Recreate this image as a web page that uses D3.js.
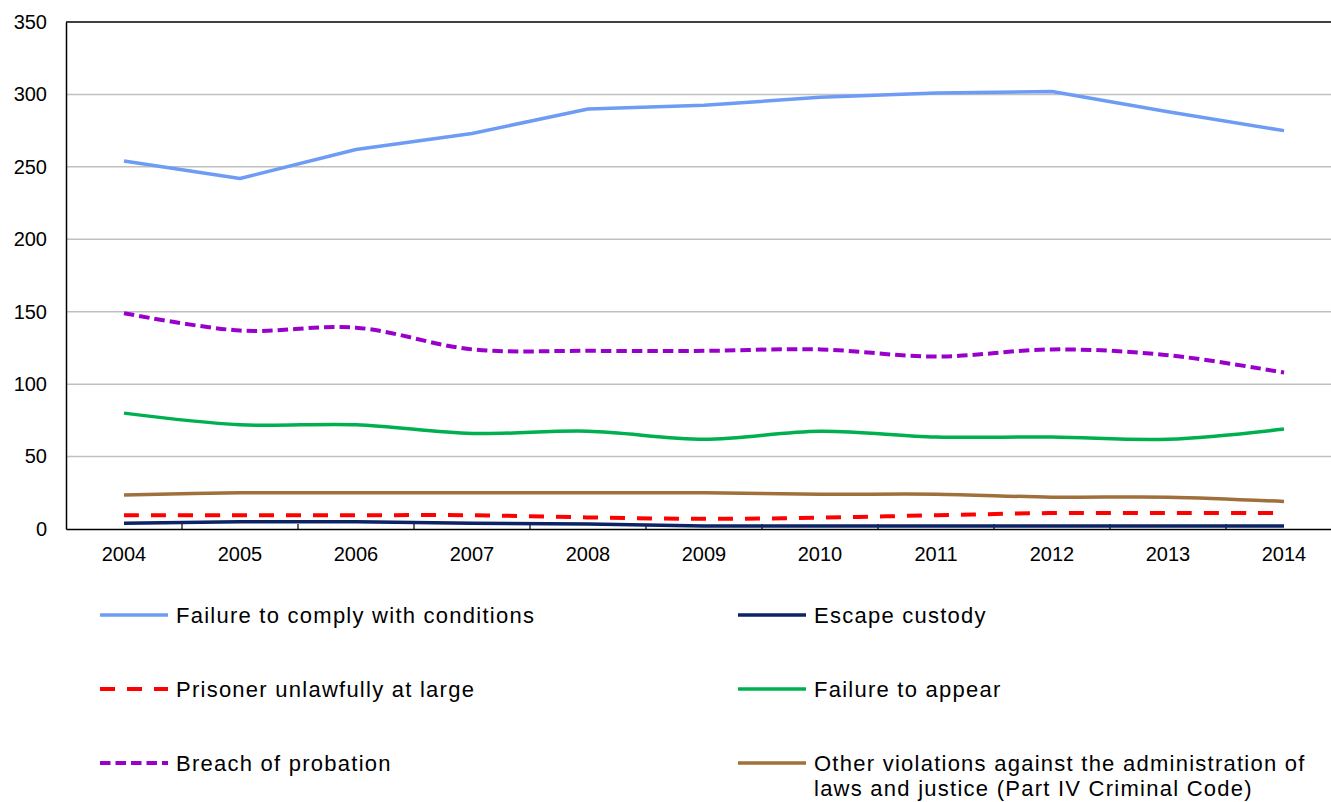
<!DOCTYPE html>
<html><head><meta charset="utf-8">
<script src="https://cdn.jsdelivr.net/npm/d3@7"></script>
<style>html,body{margin:0;padding:0;background:#fff;overflow:hidden}</style>
</head><body>
<svg id="chart" width="1331" height="802"></svg>
<script>
const years = ["2004","2005","2006","2007","2008","2009","2010","2011","2012","2013","2014"];
const yTicks = [0,50,100,150,200,250,300,350];
const failureComply = [254,242,262,273,290,292.5,298,301,302,288,275];
const escapeCustody = [4,5,5,4,3.5,2,2,2,2,2,2];
const prisonerAtLarge = [9.5,9.5,9.5,9.5,8,7,7.8,9.5,11,11,11];
const failureAppear = [80,72,72,66,67.5,62,67.5,63.5,63.5,62,69];
const breachProbation = [149,137,139,124,123,123,124,119,124,120,108];
const otherViolations = [23.5,25,25,25,25,25,24,24,22,22,19];
const seriesNames = ["Failure to comply with conditions","Escape custody","Prisoner unlawfully at large","Failure to appear","Breach of probation","Other violations against the administration of|laws and justice  (Part IV  Criminal Code)"];

const series = [
  {name: seriesNames[0], values: failureComply, color: "#6E9CF5", dash: null, w: 3.5, smooth: false},
  {name: seriesNames[1], values: escapeCustody, color: "#0C2466", dash: null, w: 3.5, smooth: false},
  {name: seriesNames[2], values: prisonerAtLarge, color: "#FF0000", dash: "15,12", w: 4, smooth: true},
  {name: seriesNames[3], values: failureAppear, color: "#00B050", dash: null, w: 3.5, smooth: true},
  {name: seriesNames[4], values: breachProbation, color: "#9900CC", dash: "10.5,5", w: 4, smooth: true},
  {name: seriesNames[5], values: otherViolations, color: "#A0703C", dash: null, w: 3.5, smooth: true}
];

const svg = d3.select("#chart");
const pLeft = 66, pRight = 1342, pTop = 22, pBottom = 529;
const x = d3.scaleBand().domain(years).range([pLeft, pRight]).padding(0);
const y = d3.scaleLinear().domain([0,350]).range([pBottom, pTop]);

svg.append("g").selectAll("line").data(yTicks.filter(d => d > 0)).join("line")
  .attr("x1", pLeft).attr("x2", pRight)
  .attr("y1", d => y(d)).attr("y2", d => y(d))
  .attr("stroke", d => d === 350 ? "#000" : "#C0C0C0")
  .attr("stroke-width", 1.5);

const yAxis = d3.axisLeft(y).tickValues(yTicks).tickSize(0).tickPadding(19);
const gy = svg.append("g").attr("transform", `translate(${pLeft},0)`).call(yAxis);
gy.select(".domain").attr("stroke", "#000").attr("stroke-width", 1.5);
gy.selectAll("text").attr("font-family", "Liberation Sans, Arial, sans-serif").attr("font-size", 20).attr("fill", "#000");

const xAxis = d3.axisBottom(x).tickSize(0).tickPadding(18);
const gx = svg.append("g").attr("transform", `translate(0,${pBottom})`).call(xAxis);
gx.select(".domain").attr("stroke", "#000").attr("stroke-width", 1.5);
gx.selectAll("text").attr("font-family", "Liberation Sans, Arial, sans-serif").attr("font-size", 20).attr("fill", "#000");
svg.append("g").selectAll("line").data(years.slice(1)).join("line")
  .attr("x1", d => x(d)).attr("x2", d => x(d))
  .attr("y1", pBottom).attr("y2", pBottom - 5)
  .attr("stroke", "#000").attr("stroke-width", 1.2);

const lineSmooth = d3.line()
  .x((d, i) => x(years[i]) + x.bandwidth() / 2)
  .y(d => y(d))
  .curve(d3.curveCatmullRom.alpha(0.5));
const lineStraight = d3.line()
  .x((d, i) => x(years[i]) + x.bandwidth() / 2)
  .y(d => y(d))
  .curve(d3.curveLinear);

svg.append("g").selectAll("path").data(series).join("path")
  .attr("d", d => (d.smooth ? lineSmooth : lineStraight)(d.values))
  .attr("fill", "none")
  .attr("stroke", d => d.color)
  .attr("stroke-width", d => d.w)
  .attr("stroke-dasharray", d => d.dash)
  .attr("stroke-linejoin", "round");

const legendPos = [[100, 615],[738, 615],[100, 689],[738, 689],[100, 763],[738, 763]];
const lg = svg.append("g");
series.forEach((s, i) => {
  const [lx, ly] = legendPos[i];
  lg.append("line").attr("x1", lx).attr("x2", lx + 68).attr("y1", ly).attr("y2", ly)
    .attr("stroke", s.color).attr("stroke-width", s.w).attr("stroke-dasharray", s.dash);
  const t = lg.append("text").attr("x", lx + 76).attr("y", ly + 8)
    .attr("font-family", "Liberation Sans, Arial, sans-serif").attr("font-size", 22)
    .attr("letter-spacing", "1.25px").attr("fill", "#000");
  s.name.split("|").forEach((part, j) => {
    t.append("tspan").attr("x", lx + 76).attr("dy", j === 0 ? 0 : 25).text(part);
  });
});
</script>
</body></html>
